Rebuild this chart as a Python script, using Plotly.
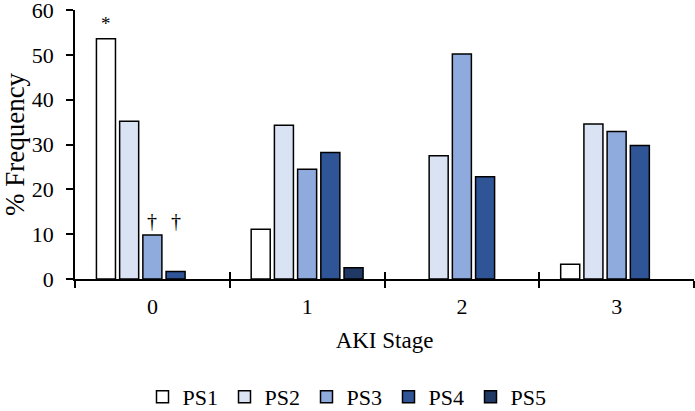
import plotly.graph_objects as go

stages = ["0", "1", "2", "3"]
series_names = ["PS1", "PS2", "PS3", "PS4", "PS5"]
ps1 = [53.6, 11.1, 0, 3.3]
ps2 = [35.2, 34.3, 27.5, 34.6]
ps3 = [9.8, 24.5, 50.2, 32.9]
ps4 = [1.7, 28.2, 22.8, 29.8]
ps5 = [0, 2.5, 0, 0]
colors = ["#ffffff", "#dae3f3", "#8faadc", "#2f5597", "#1f3864"]

FONT = "Liberation Serif"

fig = go.Figure()
for name, vals, col in zip(series_names, [ps1, ps2, ps3, ps4, ps5], colors):
    # zero-height bars are not drawn in the original (no outline stub)
    fig.add_trace(go.Bar(
        x=stages, y=[v if v else None for v in vals], name=name,
        marker=dict(color=col, line=dict(color="#000000", width=1.5)),
    ))

# invisible trace so the overlaid axis (crossing boundary ticks) is drawn
fig.add_trace(go.Scatter(x=[None], y=[None], xaxis="x2", showlegend=False))

fig.update_layout(
    width=695, height=411,
    margin=dict(l=75, r=1, t=10, b=132),
    paper_bgcolor="white", plot_bgcolor="white",
    font=dict(family=FONT, size=22, color="#000000"),
    barmode="group", bargap=0.25, bargroupgap=0.18,
    showlegend=True,
    legend=dict(orientation="h", xref="container", x=0.5, xanchor="center",
                yref="container", y=0.034, yanchor="middle",
                font=dict(size=22), itemwidth=30, entrywidth=37,
                traceorder="normal"),
    xaxis=dict(
        automargin=False,
        showline=True, linecolor="#000000", linewidth=1.5,
        ticks="outside", tickson="boundaries", ticklen=7, tickwidth=1.5,
        tickcolor="#000000", showgrid=False, ticklabelstandoff=7,
        title=dict(text="AKI Stage", standoff=14, font=dict(size=23)),
    ),
    xaxis2=dict(
        overlaying="x", anchor="y", range=[-0.5, 3.5],
        tickvals=[-0.5, 0.5, 1.5, 2.5, 3.5], ticks="inside", ticklen=7,
        tickwidth=1.5, tickcolor="#000000", showticklabels=False,
        showgrid=False, zeroline=False, showline=False, side="bottom",
    ),
    yaxis=dict(
        automargin=False, ticklabeloverflow="allow",
        range=[0, 60], dtick=10, showline=True, linecolor="#000000", linewidth=1.5,
        ticks="outside", ticklen=7, tickwidth=1.5, tickcolor="#000000",
        showgrid=False, zeroline=False, ticklabelstandoff=8,
        title=dict(text="% Frequency", standoff=4, font=dict(size=27)),
    ),
)

# significance markers placed over their bars within the category group
cat_px = 619 / 4
slot = (1 - 0.25) / 5 * cat_px
fig.add_annotation(x=0, y=ps1[0], xref="x", yref="y", text="*", showarrow=False,
                   xshift=-2 * slot, yanchor="bottom", yshift=3,
                   font=dict(size=19))
for k in (2, 3):
    fig.add_annotation(x=0, y=ps3[0], xref="x", yref="y", text="†", showarrow=False,
                       xshift=(k - 2) * slot, yanchor="bottom", yshift=1,
                       font=dict(size=20))

fig.write_html("out.html", config={"displayModeBar": False},
               post_script="document.body.style.margin='0';")
